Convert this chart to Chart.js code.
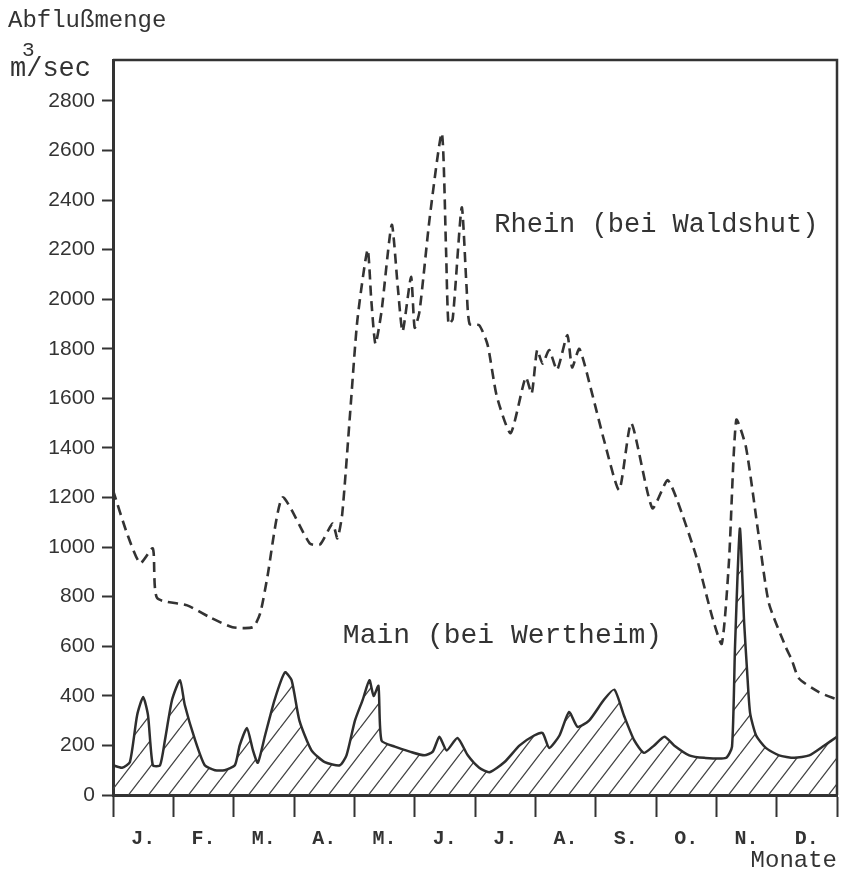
<!DOCTYPE html>
<html>
<head>
<meta charset="utf-8">
<script src="https://cdn.jsdelivr.net/npm/chart.js@4.4.1/dist/chart.umd.min.js"></script>
<style>
	html, body { margin: 0; padding: 0; background: #fff; }
	#wrap { width: 847px; height: 875px; }
</style>
</head>
<body>
<div id="wrap"><canvas id="flowChart"></canvas></div>
<script>
// month labels under the axis, flow ticks on the left
const monthLabels = ["J.", "F.", "M.", "A.", "M.", "J.", "J.", "A.", "S.", "O.", "N.", "D."];
const flowTicks = [0, 200, 400, 600, 800, 1000, 1200, 1400, 1600, 1800, 2000, 2200, 2400, 2600, 2800];

// Rhein (bei Waldshut), position in months from 1 Jan, flow in m3/sec
const rheinMonth = [
	0.00, 0.23, 0.45, 0.66, 0.73, 1.23, 1.62, 1.98, 2.32, 2.44, 2.55, 2.81,
	3.26, 3.43, 3.64, 3.72, 3.80, 3.93, 4.05, 4.22, 4.28, 4.35, 4.45, 4.62,
	4.72, 4.80, 4.94, 5.00, 5.08, 5.25, 5.45, 5.52, 5.56, 5.63, 5.78, 5.86,
	5.91, 6.07, 6.21, 6.36, 6.59, 6.84, 6.94, 7.03, 7.12, 7.23, 7.36, 7.53,
	7.61, 7.73, 7.94, 8.14, 8.39, 8.59, 8.94, 9.19, 9.35, 9.67, 9.93, 10.09,
	10.21, 10.33, 10.49, 10.70, 10.87, 11.15, 11.25, 11.37, 11.70, 12.00,
];
const rheinFlow = [
	1230, 1057, 935, 995, 795, 765, 715, 677, 677, 733, 867, 1200,
	1015, 1010, 1095, 1035, 1135, 1540, 1915, 2200, 2000, 1820, 1950, 2300,
	2050, 1870, 2090, 1885, 1950, 2330, 2670, 2200, 1900, 1920, 2370, 2050,
	1900, 1895, 1815, 1610, 1460, 1685, 1620, 1795, 1740, 1795, 1715, 1855,
	1725, 1800, 1620, 1430, 1230, 1500, 1157, 1270, 1190, 960, 720, 610,
	945, 1513, 1405, 1050, 775, 597, 545, 470, 415, 385,
];

// Main (bei Wertheim)
const mainMonth = [
	0.00, 0.15, 0.28, 0.40, 0.50, 0.58, 0.66, 0.78, 0.86, 0.98, 1.11, 1.19,
	1.36, 1.52, 1.69, 1.85, 2.02, 2.10, 2.22, 2.32, 2.40, 2.52, 2.68, 2.85,
	2.96, 3.09, 3.29, 3.51, 3.76, 3.87, 4.01, 4.14, 4.25, 4.32, 4.40, 4.45,
	4.67, 4.92, 5.16, 5.30, 5.41, 5.53, 5.71, 5.88, 6.07, 6.24, 6.49, 6.74,
	6.98, 7.12, 7.23, 7.40, 7.56, 7.70, 7.89, 8.14, 8.31, 8.47, 8.64, 8.80,
	8.97, 9.14, 9.30, 9.55, 9.80, 10.16, 10.26, 10.31, 10.39, 10.46, 10.51, 10.56,
	10.66, 10.82, 11.04, 11.29, 11.54, 11.79, 12.00,
];
const mainFlow = [
	120, 110, 133, 322, 395, 322, 120, 120, 220, 385, 463, 363,
	222, 120, 100, 100, 120, 200, 270, 180, 130, 240, 385, 495,
	463, 300, 180, 133, 120, 160, 300, 385, 463, 400, 440, 220,
	195, 175, 160, 175, 235, 180, 230, 160, 110, 92, 133, 200,
	240, 250, 190, 240, 335, 275, 300, 385, 425, 320, 220, 170,
	200, 235, 200, 160, 150, 150, 195, 600, 1075, 700, 500, 330,
	240, 190, 160, 150, 160, 200, 235,
];

function toPoints(xs, ys) {
	return xs.map((x, i) => ({ x: x, y: ys[i] }));
}

function hatchPattern() {
	const c = document.createElement("canvas");
	c.width = 20;
	c.height = 26;
	const g = c.getContext("2d");
	g.strokeStyle = "#444";
	g.lineWidth = 1.3;
	g.beginPath();
	for (const dx of [-20, 0, 20]) {
		g.moveTo(dx, 26);
		g.lineTo(dx + 20, 0);
	}
	g.stroke();
	return g.createPattern(c, "repeat");
}

const ink = "#333";
const mono = "'Liberation Mono', 'Courier New', monospace";

// typewriter labels and the top/right edges of the frame
const chartText = {
	id: "chartText",
	afterDraw(chart) {
		const ctx = chart.ctx;
		const xs = chart.scales.x;
		const ys = chart.scales.y;
		const a = chart.chartArea;
		ctx.save();
		ctx.fillStyle = ink;
		ctx.textBaseline = "alphabetic";
		ctx.textAlign = "left";
		ctx.font = "24px " + mono;
		ctx.fillText("Abflußmenge", 8, 27);
		ctx.font = "27px " + mono;
		ctx.fillText("m/sec", 10, 76);
		ctx.font = "21px " + mono;
		ctx.fillText("3", 22, 56);
		ctx.font = "27px " + mono;
		ctx.fillText("Rhein (bei Waldshut)", xs.getPixelForValue(6.32), ys.getPixelForValue(2270));
		ctx.font = "28px " + mono;
		ctx.fillText("Main (bei Wertheim)", xs.getPixelForValue(3.81), ys.getPixelForValue(613));

		ctx.strokeStyle = ink;
		ctx.lineWidth = 2.5;
		ctx.beginPath();
		ctx.moveTo(a.left, a.top);
		ctx.lineTo(a.right, a.top);
		ctx.lineTo(a.right, a.bottom);
		ctx.stroke();
		ctx.restore();
	},
};

const flowChart = new Chart(document.getElementById("flowChart"), {
	type: "line",
	data: {
		datasets: [
			{
				label: "Rhein (bei Waldshut)",
				data: toPoints(rheinMonth, rheinFlow),
				borderColor: "#333",
				borderWidth: 2.6,
				borderDash: [10, 6],
				pointRadius: 0,
				tension: 0.2,
				fill: false,
			},
			{
				label: "Main (bei Wertheim)",
				data: toPoints(mainMonth, mainFlow),
				borderColor: "#2e2e2e",
				borderWidth: 2.5,
				pointRadius: 0,
				tension: 0.2,
				fill: "origin",
				backgroundColor: hatchPattern(),
			},
		],
	},
	options: {
		responsive: true,
		maintainAspectRatio: false,
		animation: false,
		layout: { padding: { left: 0, right: 9, top: 60, bottom: 0 } },
		plugins: {
			legend: { display: false },
			tooltip: { enabled: false },
		},
		scales: {
			x: {
				type: "linear",
				min: 0,
				max: 12,
				afterFit: (scale) => { scale.height = 80; },
				border: { display: true, color: ink, width: 3 },
				grid: {
					drawOnChartArea: false,
					drawTicks: true,
					tickLength: 22,
					tickWidth: 2,
					tickColor: (c) => (Number.isInteger(c.tick.value) ? ink : "rgba(0,0,0,0)"),
				},
				ticks: {
					stepSize: 0.5,
					autoSkip: false,
					maxRotation: 0,
					padding: 10,
					color: ink,
					font: { family: mono, size: 20, weight: "bold" },
					callback: (v) => (Number.isInteger(v) ? "" : monthLabels[Math.floor(v)]),
				},
				title: {
					display: true,
					text: "Monate",
					align: "end",
					color: ink,
					padding: { top: 0, bottom: 0 },
					font: { family: mono, size: 24 },
				},
			},
			y: {
				min: 0,
				max: 2965,
				afterFit: (scale) => { scale.width = 113; },
				afterBuildTicks: (scale) => {
					scale.ticks = flowTicks.map((v) => ({ value: v }));
				},
				border: { display: true, color: ink, width: 3 },
				grid: {
					drawOnChartArea: false,
					drawTicks: true,
					tickLength: 11,
					tickWidth: 2,
					tickColor: ink,
				},
				ticks: {
					padding: 7,
					color: ink,
					font: { family: "'Liberation Sans', Arial, sans-serif", size: 21 },
					callback: (v) => String(v),
				},
			},
		},
	},
	plugins: [chartText],
});
</script>
</body>
</html>
